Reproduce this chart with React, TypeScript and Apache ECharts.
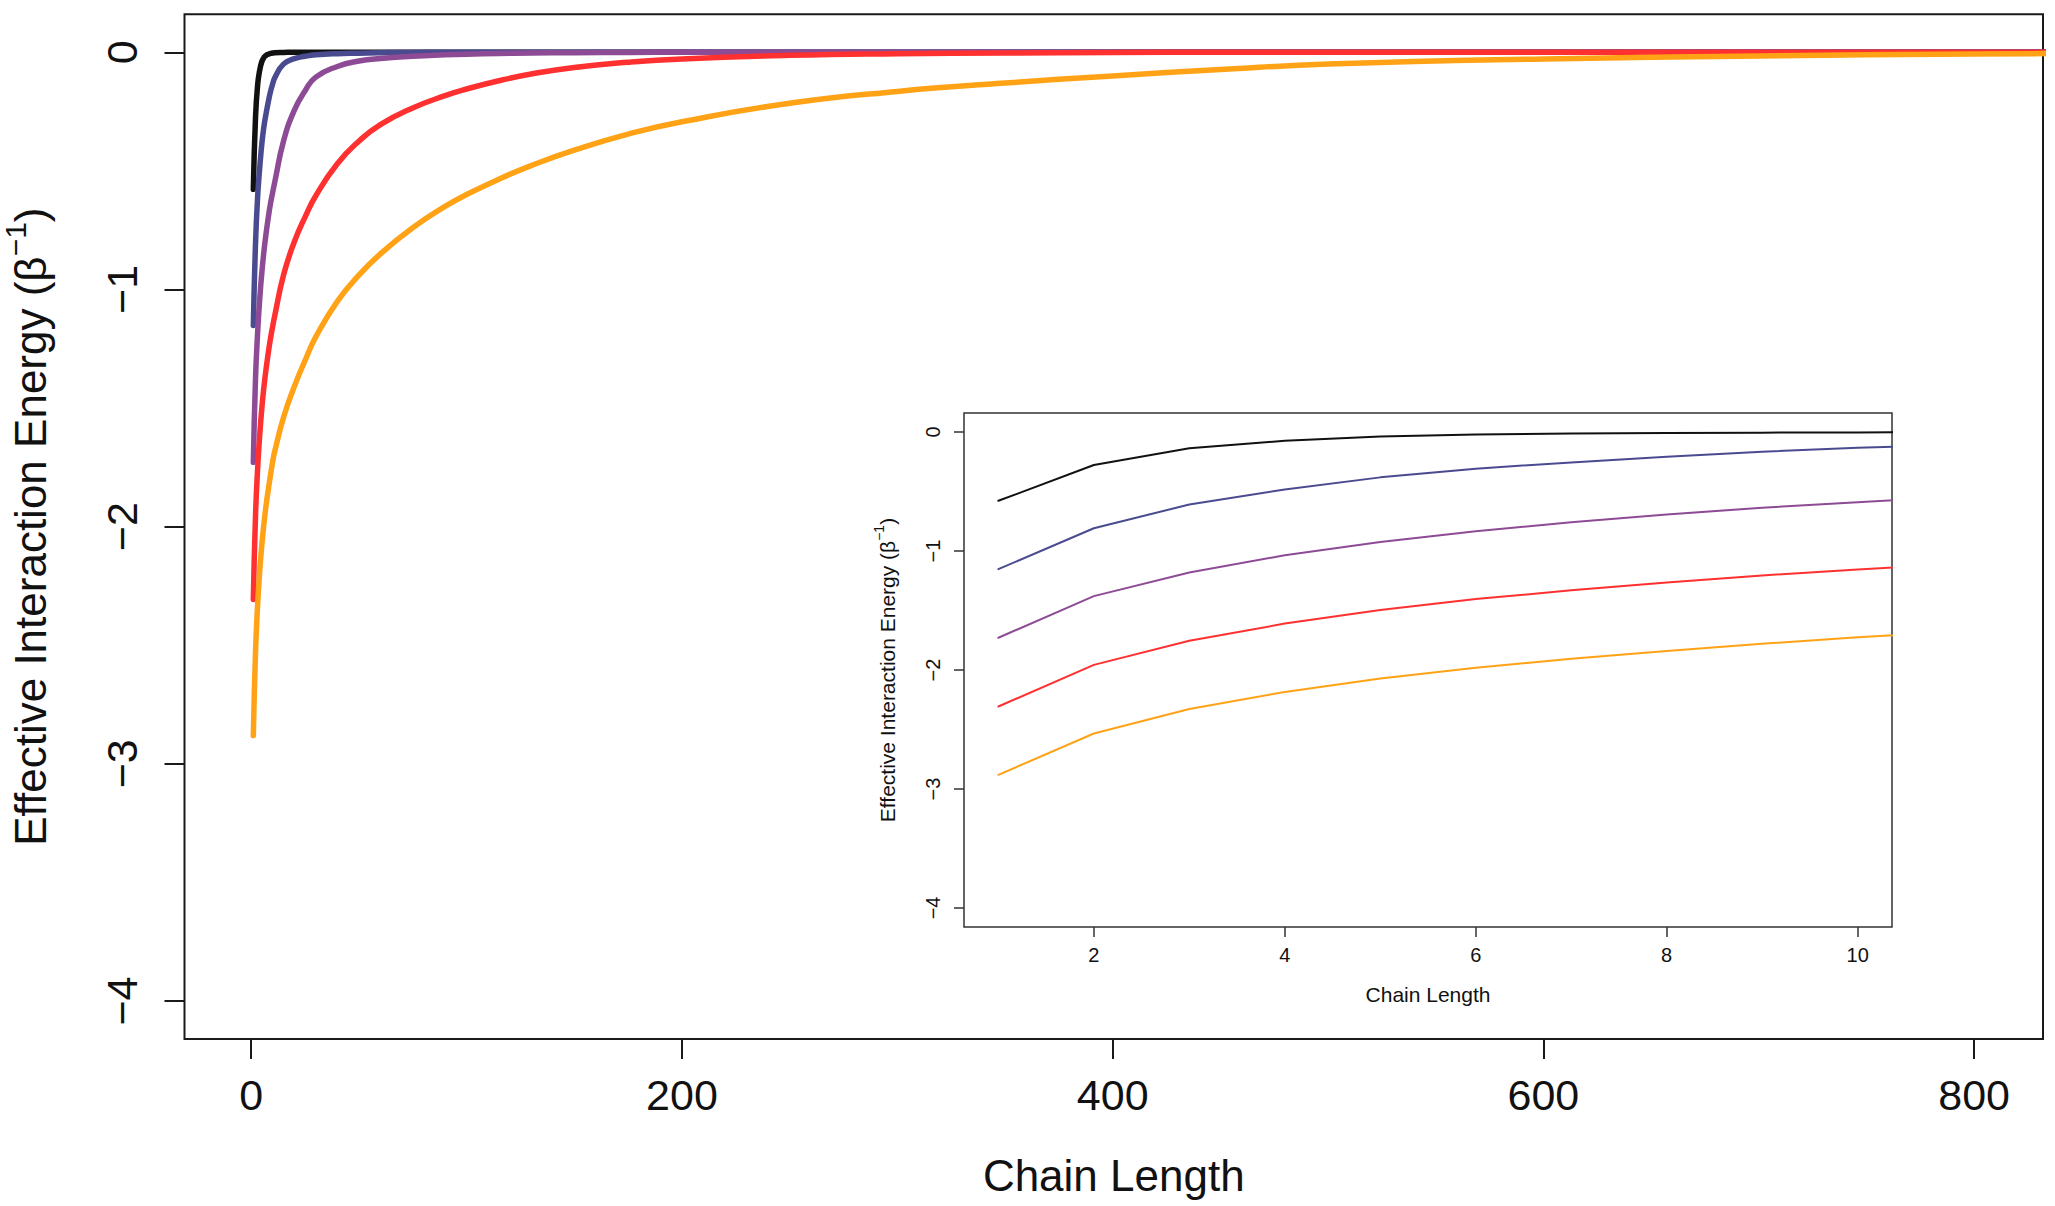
import React, { useEffect, useRef } from "react";
import * as echarts from "echarts";

const chainLength = [1, 2, 3, 4, 5, 6, 7, 8, 9, 10, 11, 15, 20, 25, 30, 40, 50, 60, 75, 90, 100, 115, 130, 150, 175, 200, 250, 300, 350, 400, 450, 500, 600, 700, 800, 850];

// Effective interaction energy (beta^-1) for the five curves
const energyBlack = [-0.578, -0.277, -0.137, -0.074, -0.038, -0.021, -0.013, -0.008, -0.005, -0.003, -0.002, -0.001, 0, 0, 0, 0, 0, 0, 0, 0, 0, 0, 0, 0, 0, 0, 0, 0, 0, 0, 0, 0, 0, 0, 0, 0];
const energyBlue = [-1.152, -0.809, -0.609, -0.483, -0.381, -0.308, -0.255, -0.207, -0.165, -0.133, -0.107, -0.05, -0.027, -0.017, -0.011, -0.006, -0.004, -0.002, -0.001, 0, 0, 0, 0, 0, 0, 0, 0, 0, 0, 0, 0, 0, 0, 0, 0, 0];
const energyPurple = [-1.729, -1.379, -1.18, -1.036, -0.924, -0.833, -0.758, -0.693, -0.636, -0.59, -0.545, -0.375, -0.245, -0.163, -0.105, -0.06, -0.037, -0.026, -0.017, -0.011, -0.008, -0.005, -0.003, -0.002, -0.001, 0, 0, 0, 0, 0, 0, 0, 0, 0, 0, 0];
const energyRed = [-2.307, -1.957, -1.754, -1.61, -1.495, -1.404, -1.33, -1.264, -1.205, -1.155, -1.108, -0.94, -0.8, -0.695, -0.605, -0.47, -0.375, -0.305, -0.235, -0.183, -0.155, -0.12, -0.092, -0.064, -0.042, -0.028, -0.013, -0.006, -0.003, -0.001, 0, 0, 0, 0, 0, 0];
const energyOrange = [-2.881, -2.534, -2.327, -2.184, -2.072, -1.981, -1.905, -1.841, -1.78, -1.725, -1.68, -1.54, -1.41, -1.3, -1.2, -1.05, -0.94, -0.85, -0.74, -0.65, -0.6, -0.535, -0.478, -0.413, -0.345, -0.293, -0.215, -0.165, -0.13, -0.1, -0.073, -0.05, -0.028, -0.016, -0.007, -0.005];

const seriesColors = ["#111111", "#4a4a90", "#8e4b95", "#ff3030", "#ffa215"];
const seriesValues = [energyBlack, energyBlue, energyPurple, energyRed, energyOrange];

// Tick labels
const mainXTicks = [0, 200, 400, 600, 800];
const insetXTicks = [2, 4, 6, 8, 10];
const yTicks = [-4, -3, -2, -1, 0];
const insetMaxLength = 11;

const FONT = "'Liberation Sans', Arial, Helvetica, sans-serif";
const INK = "#111111";

const fmt = (v: number) => (v < 0 ? "\u2212" + Math.abs(v) : String(v));

function pairs(values: number[], maxX?: number) {
  const out: number[][] = [];
  chainLength.forEach((x, i) => {
    if (maxX === undefined || x <= maxX) out.push([x, values[i]]);
  });
  return out;
}

export default function App() {
  const ref = useRef<HTMLDivElement>(null);

  useEffect(() => {
    if (!ref.current) return;
    const chart = echarts.init(ref.current, undefined, { renderer: "svg" });

    // R-style 4% axis extension (xlim 1..800, 1..10; ylim -4..0)
    const xr = 800 - 1;
    const mainXMin = 1 - 0.04 * xr;
    const mainXMax = 800 + 0.04 * xr;
    const ixr = 10 - 1;
    const insetXMin = 1 - 0.04 * ixr;
    const insetXMax = 10 + 0.04 * ixr;
    const yMin = -4 - 0.04 * 4;
    const yMax = 0 + 0.04 * 4;

    const mainSeries = seriesValues.map((vals, i) => ({
      type: "line",
      xAxisIndex: 0,
      yAxisIndex: 0,
      data: pairs(vals),
      showSymbol: false,
      symbol: "none",
      smooth: 0.5,
      clip: true,
      lineStyle: { color: seriesColors[i], width: 5.5, cap: "round", join: "round" },
      z: 2 + i,
    }));

    const insetSeries = seriesValues.map((vals, i) => ({
      type: "line",
      xAxisIndex: 1,
      yAxisIndex: 1,
      data: pairs(vals, insetMaxLength),
      showSymbol: false,
      symbol: "none",
      clip: true,
      lineStyle: { color: seriesColors[i], width: 2, cap: "round", join: "round" },
      z: 10 + i,
    }));

    chart.setOption({
      animation: false,
      backgroundColor: "#ffffff",
      grid: [
        {
          left: 184.5,
          top: 14.3,
          width: 1858.5,
          height: 1024.7,
          containLabel: false,
          outerBoundsMode: "none",
          show: true,
          borderColor: "#1a1a1a",
          borderWidth: 2,
          backgroundColor: "transparent",
        },
        {
          left: 964,
          top: 413,
          width: 928,
          height: 514,
          containLabel: false,
          outerBoundsMode: "none",
          show: true,
          borderColor: "#333333",
          borderWidth: 1.5,
          backgroundColor: "#ffffff",
          z: 5,
        },
      ],
      xAxis: [
        {
          type: "value",
          gridIndex: 0,
          min: mainXMin,
          max: mainXMax,
          axisLine: { show: false, onZero: false },
          splitLine: { show: false },
          axisTick: { show: true, length: 20, lineStyle: { color: "#1a1a1a", width: 2 }, customValues: mainXTicks },
          axisLabel: { customValues: mainXTicks, margin: 34, fontSize: 43, lineHeight: 43, color: INK, fontFamily: FONT, formatter: fmt },
          name: "Chain Length",
          nameLocation: "middle",
          nameGap: 114,
          nameTextStyle: { fontSize: 44, lineHeight: 44, color: INK, fontFamily: FONT },
        },
        {
          type: "value",
          gridIndex: 1,
          min: insetXMin,
          max: insetXMax,
          axisLine: { show: false, onZero: false },
          splitLine: { show: false },
          axisTick: { show: true, length: 10, lineStyle: { color: "#333333", width: 1.5 }, customValues: insetXTicks },
          axisLabel: { customValues: insetXTicks, margin: 18, fontSize: 20, lineHeight: 20, color: INK, fontFamily: FONT, formatter: fmt },
          name: "Chain Length",
          nameLocation: "middle",
          nameGap: 56,
          nameTextStyle: { fontSize: 21, lineHeight: 22, color: INK, fontFamily: FONT },
          z: 6,
        },
      ],
      yAxis: [
        {
          type: "value",
          gridIndex: 0,
          min: yMin,
          max: yMax,
          axisLine: { show: false, onZero: false },
          splitLine: { show: false },
          axisTick: { show: true, length: 20, lineStyle: { color: "#1a1a1a", width: 2 }, customValues: yTicks },
          axisLabel: { customValues: yTicks, rotate: 90, margin: 41, fontSize: 43, lineHeight: 43, color: INK, fontFamily: FONT, formatter: fmt },
          name: "Effective Interaction Energy (\u03b2{sup|\u22121})",
          nameLocation: "middle",
          nameGap: 124,
          nameTextStyle: {
            fontSize: 44,
            lineHeight: 60,
            color: INK,
            fontFamily: FONT,
            rich: { sup: { fontSize: 30, lineHeight: 30, verticalAlign: "top", color: INK, fontFamily: FONT } },
          },
        },
        {
          type: "value",
          gridIndex: 1,
          min: yMin,
          max: yMax,
          axisLine: { show: false, onZero: false },
          splitLine: { show: false },
          axisTick: { show: true, length: 10, lineStyle: { color: "#333333", width: 1.5 }, customValues: yTicks },
          axisLabel: { customValues: yTicks, rotate: 90, margin: 21, fontSize: 20, lineHeight: 20, color: INK, fontFamily: FONT, formatter: fmt },
          name: "Effective Interaction Energy (\u03b2{sup|\u22121})",
          nameLocation: "middle",
          nameGap: 62,
          nameTextStyle: {
            fontSize: 21,
            lineHeight: 30,
            color: INK,
            fontFamily: FONT,
            rich: { sup: { fontSize: 14, lineHeight: 14, verticalAlign: "top", color: INK, fontFamily: FONT } },
          },
          z: 6,
        },
      ],
      series: [...mainSeries, ...insetSeries],
    });

    return () => chart.dispose();
  }, []);

  return (
    <div
      ref={ref}
      style={{ position: "absolute", left: 0, top: 0, width: 2055, height: 1206, background: "#fff" }}
    />
  );
}
